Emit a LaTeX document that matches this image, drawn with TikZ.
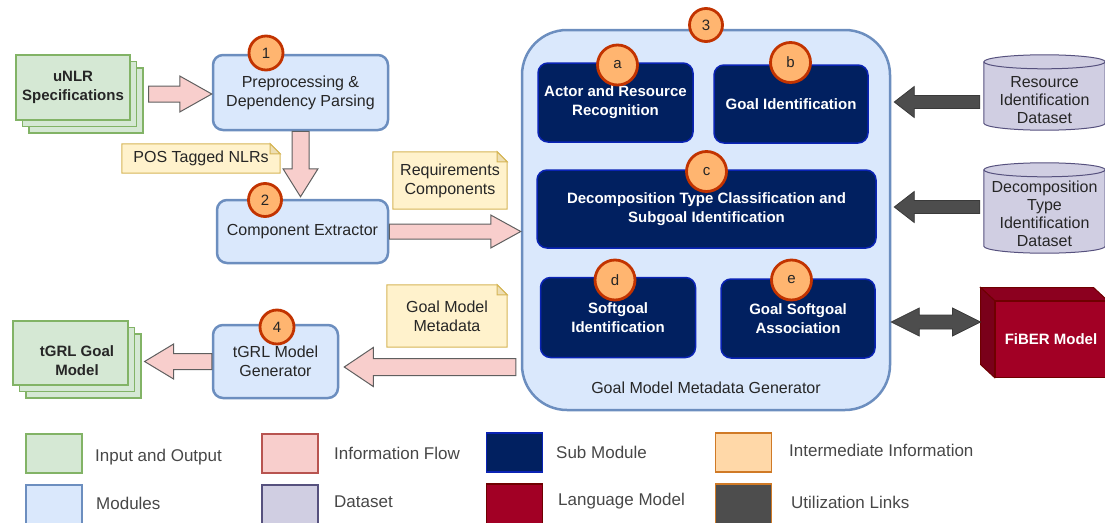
\documentclass[tikz,border=0pt]{standalone}
\usepackage{fontspec}
\setmainfont{Liberation Sans}
\usetikzlibrary{calc}
\pgfdeclarelayer{bg}
\pgfsetlayers{bg,main}
\definecolor{ioF}{HTML}{D5E8D4}\definecolor{ioD}{HTML}{82B366}
\definecolor{modF}{HTML}{DAE8FC}\definecolor{modD}{HTML}{6C8EBF}
\definecolor{subF}{HTML}{012060}\definecolor{subD}{HTML}{0A23B4}
\definecolor{flowF}{HTML}{F8CECC}\definecolor{flowD}{HTML}{B85450}
\definecolor{arrD}{HTML}{5F5F5F}
\definecolor{noteF}{HTML}{FFF2CC}\definecolor{noteD}{HTML}{D6B656}
\definecolor{dsF}{HTML}{D0CEE2}\definecolor{dsD}{HTML}{56517E}
\definecolor{lmF}{HTML}{A20025}\definecolor{lmD}{HTML}{6F0000}
\definecolor{lmTop}{HTML}{8C001F}\definecolor{lmSide}{HTML}{7A001A}
\definecolor{badgeF}{HTML}{FFB570}\definecolor{badgeD}{HTML}{C23300}
\definecolor{utilF}{HTML}{4D4D4D}\definecolor{utilD}{HTML}{3A3A3A}
\definecolor{interF}{HTML}{FFD8A8}\definecolor{interD}{HTML}{D07A26}
\definecolor{txt}{HTML}{262626}
\newcommand\rfont{\fontsize{16}{19}\selectfont}
\newcommand\dfont{\fontsize{16}{18}\selectfont}
\newcommand\bfontx{\fontsize{15}{19}\selectfont\bfseries}
% horizontal block arrow: style, from, to, shaft half, head half, head length
\newcommand\harrow[6]{\path[#1] let \p1=#2, \p2=#3, \n1={ifthenelse(\x2>\x1,1,-1)} in
 ({\x1},{\y1+#4}) -- ({\x2-\n1*#6},{\y1+#4}) -- ({\x2-\n1*#6},{\y1+#5}) -- ({\x2},{\y1})
 -- ({\x2-\n1*#6},{\y1-#5}) -- ({\x2-\n1*#6},{\y1-#4}) -- ({\x1},{\y1-#4}) -- cycle;}
\newcommand\varrow[6]{\path[#1] let \p1=#2, \p2=#3, \n1={ifthenelse(\y2>\y1,1,-1)} in
 ({\x1+#4},{\y1}) -- ({\x1+#4},{\y2-\n1*#6}) -- ({\x1+#5},{\y2-\n1*#6}) -- ({\x1},{\y2})
 -- ({\x1-#5},{\y2-\n1*#6}) -- ({\x1-#4},{\y2-\n1*#6}) -- ({\x1-#4},{\y1}) -- cycle;}
\newcommand\dharrow[6]{\path[#1] let \p1=#2, \p2=#3, \n1={ifthenelse(\x2>\x1,1,-1)} in
 ({\x1},{\y1}) -- ({\x1+\n1*#6},{\y1+#5}) -- ({\x1+\n1*#6},{\y1+#4}) -- ({\x2-\n1*#6},{\y1+#4})
 -- ({\x2-\n1*#6},{\y1+#5}) -- ({\x2},{\y1}) -- ({\x2-\n1*#6},{\y1-#5}) -- ({\x2-\n1*#6},{\y1-#4})
 -- ({\x1+\n1*#6},{\y1-#4}) -- ({\x1+\n1*#6},{\y1-#5}) -- cycle;}
\newcommand\notebox[1]{\begin{pgfonlayer}{bg}
 \path[notestyle] (#1.south west) -- (#1.north west) -- ($(#1.north east)+(-10,0)$)
   -- ($(#1.north east)+(0,-10)$) -- (#1.south east) -- cycle;
 \path[notestyle,fill=noteD!45] ($(#1.north east)+(-10,0)$) -- ($(#1.north east)+(-10,-10)$) -- ($(#1.north east)+(0,-10)$) -- cycle;
 \end{pgfonlayer}}
% cylinder behind node #1, whose outline is shifted up by #2 from the node box
\newcommand\cyl[2]{\begin{pgfonlayer}{bg}
 \path[dsstyle] let \p1=($(#1.north west)+(0,#2)$), \p2=($(#1.south east)+(0,#2)$), \n1={(\x2-\x1)/2} in
  ({\x1},{\y1-7pt}) -- ({\x1},{\y2+7pt}) arc[start angle=180,end angle=360,x radius=\n1,y radius=7pt]
  -- ({\x2},{\y1-7pt}) arc[start angle=0,end angle=180,x radius=\n1,y radius=7pt] -- cycle;
 \path[dsstyle,fill=none] let \p1=($(#1.north west)+(0,#2)$), \p2=($(#1.south east)+(0,#2)$), \n1={(\x2-\x1)/2} in
  ({\x1},{\y1-7pt}) arc[start angle=180,end angle=360,x radius=\n1,y radius=7pt];
 \end{pgfonlayer}}
\tikzset{
 every node/.style={text=txt},
 io/.style={draw=ioD, fill=ioF, line width=1.2pt, minimum width=114, minimum height=65, inner sep=0},
 module/.style={draw=modD, fill=modF, line width=2.5pt, rounded corners=10pt, align=center, font=\rfont},
 sub/.style={draw=subD, fill=subF, line width=1.5pt, rounded corners=10pt, align=center, font=\bfontx, text=white},
 badge/.style={circle, draw=badgeD, fill=badgeF, line width=2.8pt, inner sep=0, font=\fontsize{15}{18}\selectfont},
 notestyle/.style={draw=noteD, fill=noteF, line width=1pt},
 dsstyle/.style={draw=dsD, fill=dsF, line width=1pt},
 flow/.style={draw=arrD, fill=flowF, line width=1pt},
 util/.style={draw=utilD, fill=utilF, line width=0.8pt},
 legsq/.style={line width=1.2pt, inner sep=0, minimum width=56},
 legtxt/.style={anchor=west, inner sep=0, text=txt!85, font=\fontsize{17}{20}\selectfont},
}
\begin{document}
\begin{tikzpicture}[x=1pt,y=1pt]
\useasboundingbox (0,0) rectangle (1105,-522);
% input stack
\node[io] (unlrC) at (86,-100.5) {};
\node[io] (unlrB) at (79.5,-94) {};
\node[io, align=center, font=\bfontx] (unlr) at (73,-87.5) {uNLR\\Specifications};
% modules
\node[module, minimum width=175, minimum height=75] (pre) at (300.5,-92.5) {Preprocessing \&\\Dependency Parsing};
\node[module, minimum width=171, minimum height=63] (comp) at (302.5,-231.5) {Component Extractor};
\node[module, minimum width=125, minimum height=73] (tgrl) at (275.5,-361.5) {tGRL Model\\Generator};
% output stack
\node[io, minimum width=115, minimum height=64] (gmC) at (83.5,-366) {};
\node[io, minimum width=115, minimum height=64] (gmB) at (77,-359.5) {};
\node[io, minimum width=115, minimum height=64,
  label={[xshift=6.5pt,yshift=-7.5pt,align=center,font=\bfontx,text=txt]center:tGRL Goal\\Model}] (gm) at (70.5,-353) {};
% notes
\node[minimum width=158, minimum height=29, inner sep=0, font=\rfont] (pos) at (201,-158.5) {POS Tagged NLRs};
\notebox{pos}
\node[minimum width=114, minimum height=57, inner sep=0, align=center, font=\rfont] (req) at (450,-180.5) {Requirements\\Components};
\notebox{req}
\node[minimum width=120, minimum height=62, inner sep=0, align=center, font=\rfont] (gmm) at (447,-316) {Goal Model\\Metadata};
\notebox{gmm}
% big module
\node[draw=modD, fill=modF, line width=2.5pt, rounded corners=45pt, minimum width=368, minimum height=380] (big) at (706,-220) {};
\node[font=\rfont] (bigtitle) at (706,-388) {Goal Model Metadata Generator};
% sub modules
\node[sub, minimum width=155, minimum height=79] (sa) at (615.5,-102.5) {Actor and Resource\\Recognition};
\node[sub, minimum width=154, minimum height=78] (sb) at (791,-104) {Goal Identification};
\node[sub, minimum width=339, minimum height=78] (sc) at (706.5,-209) {Decomposition Type Classification and\\Subgoal Identification};
\node[sub, minimum width=155, minimum height=80] (sd) at (618,-317.5) {Softgoal\\Identification};
\node[sub, minimum width=154, minimum height=79] (se) at (798,-318.5) {Goal Softgoal\\Association};
% datasets
\node[minimum width=121, minimum height=75, inner sep=0, align=center, font=\dfont] (ds1) at (1044.5,-100) {Resource\\Identification\\Dataset};
\cyl{ds1}{7.5}
\node[minimum width=121, minimum height=90, inner sep=0, align=center, font=\dfont] (ds2) at (1044.5,-213.5) {Decomposition\\Type\\Identification\\Dataset};
\cyl{ds2}{5.5}
% FiBER cube
\node[draw=lmD, fill=lmF, line width=1pt, minimum width=112, minimum height=76, font=\bfontx, text=white] (fiber) at (1051,-339) {FiBER Model};
\begin{pgfonlayer}{bg}
\path[draw=lmD, fill=lmTop, line width=1pt] (fiber.north west) -- ++(-14,13) -- ($(fiber.north east)+(-14,13)$) -- (fiber.north east) -- cycle;
\path[draw=lmD, fill=lmSide, line width=1pt] (fiber.north west) -- ++(-14,13) -- ($(fiber.south west)+(-14,13)$) -- (fiber.south west) -- cycle;
\end{pgfonlayer}
% badges
\node[badge, minimum size=34] (n1) at (266,-53) {1};
\node[badge, minimum size=33] (n2) at (265,-200) {2};
\node[badge, minimum size=33] (n3) at (706,-25) {3};
\node[badge, minimum size=34] (n4) at (277,-327) {4};
\node[badge, minimum size=40] (na) at (617.5,-65) {a};
\node[badge, minimum size=40] (nb) at (790.5,-62.5) {b};
\node[badge, minimum size=40] (nc) at (706.5,-171.5) {c};
\node[badge, minimum size=40] (nd) at (615,-280) {d};
\node[badge, minimum size=40] (ne) at (791.5,-280) {e};
% information flow arrows
\harrow{flow}{($(unlrB.east)+(11.5,0)$)}{(pre.west)}{8pt}{18pt}{32pt}
\varrow{flow}{(pre.south)}{($(comp.north)+(0,2)$)}{8.5pt}{17.5pt}{28pt}
\harrow{flow}{(comp.east)}{(big.west)}{7.5pt}{16.5pt}{30pt}
\harrow{flow}{($(big.west)+(-5,-147)$)}{($(tgrl.east)+(5,0)$)}{8.5pt}{19.5pt}{29pt}
\harrow{flow}{(tgrl.west)}{($(gmC.east)+(3,0)$)}{8pt}{17.5pt}{29pt}
% utilization links
\harrow{util}{($(ds1.west)+(-4,-2)$)}{($(big.east)+(3,0)$)}{6.5pt}{15.5pt}{20pt}
\harrow{util}{($(ds2.west)+(-4,6.5)$)}{($(big.east)+(3,0)$)}{6.5pt}{15.5pt}{20pt}
\dharrow{util}{($(big.east)+(0,-102)$)}{($(fiber.west)+(-14,17)$)}{7pt}{14pt}{28pt}
% legend
\node[legsq, draw=ioD, fill=ioF, minimum height=39] (lg1) at (54,-453.5) {};
\node[legtxt] (lt1) at (95,-457) {Input and Output};
\node[legsq, draw=flowD, fill=flowF, minimum height=39] (lg2) at (290,-453.5) {};
\node[legtxt] (lt2) at (334,-453) {Information Flow};
\node[legsq, draw=subD, fill=subF, minimum height=39] (lg3) at (514.5,-452.5) {};
\node[legtxt] (lt3) at (556,-452) {Sub Module};
\node[legsq, draw=interD, fill=interF, minimum height=39] (lg4) at (743.5,-452.5) {};
\node[legtxt] (lt4) at (789,-450) {Intermediate Information};
\node[legsq, draw=modD, fill=modF, minimum height=40] (lg5) at (54,-505) {};
\node[legtxt] (lt5) at (96,-503) {Modules};
\node[legsq, draw=dsD, fill=dsF, minimum height=40] (lg6) at (290,-505) {};
\node[legtxt] (lt6) at (334,-502) {Dataset};
\node[legsq, draw=lmD, fill=lmF, minimum height=40] (lg7) at (514.5,-504) {};
\node[legtxt] (lt7) at (558,-501) {Language Model};
\node[legsq, draw=interD, fill=utilF, minimum height=40] (lg8) at (743.5,-504) {};
\node[legtxt] (lt8) at (791,-502) {Utilization Links};
\end{tikzpicture}
\end{document}
